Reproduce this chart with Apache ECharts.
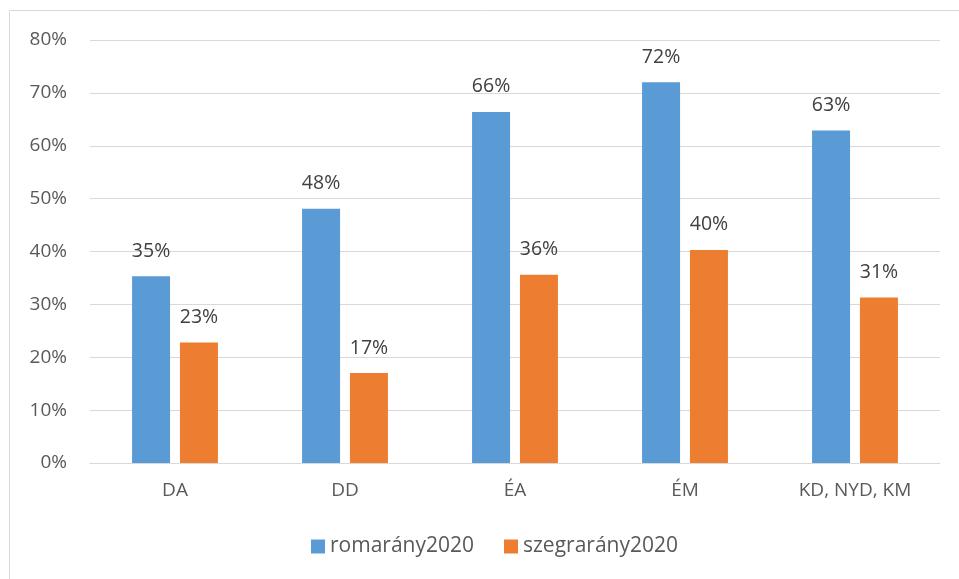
<!DOCTYPE html>
<html><head><meta charset="utf-8">
<script src="https://cdn.jsdelivr.net/npm/echarts@6/dist/echarts.min.js"></script>
<style>html,body{margin:0;padding:0;background:#fff}#c{width:959px;height:579px}</style>
</head><body><div id="c"></div>
<script>
const categories = ['DA', 'DD', 'ÉA', 'ÉM', 'KD, NYD, KM'];
const romarany2020 = [35.3, 48.1, 66.4, 72.0, 62.9];
const szegrarany2020 = [22.8, 17.0, 35.6, 40.3, 31.3];
const seriesNames = ['romarány2020', 'szegrarány2020'];
const FONT = '"Open Sans", "Noto Sans", sans-serif';
const chart = echarts.init(document.getElementById('c'));
const lbl = {show:true, position:'top', distance:15, color:'#404040', fontSize:19.5, fontFamily:FONT,
  formatter: p => Math.round(p.value) + '%'};
chart.setOption({
  animation:false,
  graphic:[{type:'rect', shape:{x:9.5, y:10.5, width:1000, height:1000}, style:{fill:'none', stroke:'#d9d9d9', lineWidth:1}}],
  grid:{left:90, right:19, top:40, bottom:116, containLabel:false},
  legend:{bottom:17, left:306, itemWidth:14, itemHeight:14, itemGap:30, icon:'rect',
    textStyle:{color:'#595959', fontSize:21, fontFamily:FONT}, data:seriesNames},
  xAxis:{type:'category', data:categories, axisTick:{show:false},
    axisLine:{lineStyle:{color:'#d9d9d9', width:1}},
    axisLabel:{color:'#595959', fontSize:19, fontFamily:FONT, margin:18}},
  yAxis:{type:'value', min:0, max:80, interval:10, axisLine:{show:false}, axisTick:{show:false},
    splitLine:{lineStyle:{color:'#d9d9d9', width:1}},
    axisLabel:{color:'#595959', fontSize:19, fontFamily:FONT, margin:23, formatter:'{value}%'}},
  series:[
    {name:seriesNames[0], type:'bar', data:romarany2020, barWidth:38, barGap:'26%', itemStyle:{color:'#5B9BD5'}, label:lbl},
    {name:seriesNames[1], type:'bar', data:szegrarany2020, barWidth:38, itemStyle:{color:'#ED7D31'}, label:lbl}
  ]
});
</script></body></html>
